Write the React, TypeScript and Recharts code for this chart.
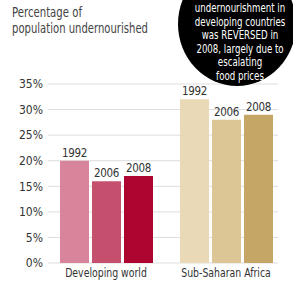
import React from 'react';
import { BarChart, Bar, XAxis, YAxis, CartesianGrid, Cell, LabelList } from 'recharts';

const categories = ['Developing world', 'Sub-Saharan Africa'];
const values1992 = [20, 32];
const values2006 = [16, 28];
const values2008 = [17, 29];
const years = ['1992', '2006', '2008'];
const yTicks = [0, 5, 10, 15, 20, 25, 30, 35];

const colors1992 = ['#d8849a', '#ead9b6'];
const colors2006 = ['#c4506e', '#ddc695'];
const colors2008 = ['#ad0430', '#c6a666'];

const data = categories.map((c, i) => ({
  cat: c,
  y1992: values1992[i],
  y2006: values2006[i],
  y2008: values2008[i],
}));

const FONT = '"DejaVu Sans Condensed", "DejaVu Sans", sans-serif';
const COND: React.CSSProperties = { fontStretch: 'condensed', fontFamily: FONT };

const titleLines = ['Percentage of', 'population undernourished'];
const titleWidths = [70, 136];

const circleLines = [
  'undernourishment in',
  'developing countries',
  'was REVERSED in',
  '2008, largely due to',
  'escalating',
  'food prices',
];

const GridLine = (props: any) => (
  <line
    key={props.key ?? `${props.y1}`}
    x1={props.x1 + 2}
    x2={props.x2 - 8}
    y1={props.y1}
    y2={props.y2}
    stroke="#dddddd"
    strokeWidth={1}
  />
);

const CatTick = (props: any) => {
  const { x, y, payload } = props;
  return (
    <text
      transform={`translate(${x},${y + 14}) scale(0.8,1)`}
      textAnchor="middle"
      fontSize={13}
      fill="#333333"
      style={COND}
    >
      {payload.value}
    </text>
  );
};

export default function App() {
  const seriesColors = [colors1992, colors2006, colors2008];
  const keys = ['y1992', 'y2006', 'y2008'];
  return (
    <div style={{ position: 'absolute', left: 0, top: 0, width: 293, height: 293, background: '#ffffff', overflow: 'hidden' }}>
      <BarChart
        width={293}
        height={293}
        data={data}
        margin={{ top: 84, right: 7, bottom: 0, left: 0 }}
        barSize={29}
        barGap={3}
      >
        <CartesianGrid vertical={false} horizontal={(p: any) => <GridLine {...p} />} />
        <XAxis
          dataKey="cat"
          tickLine={false}
          axisLine={false}
          tickSize={0}
          tickMargin={0}
          height={30}
          interval={0}
          tick={<CatTick />}
        />
        <YAxis
          width={46}
          domain={[0, 35]}
          ticks={yTicks}
          tickFormatter={(v: number) => `${v}%`}
          tickLine={false}
          axisLine={false}
          tickSize={0}
          tickMargin={3}
          tick={{ fontSize: 12, fill: '#333333', style: COND }}
        />
        {keys.map((k, si) => (
          <Bar key={k} dataKey={k} isAnimationActive={false}>
            {data.map((d, i) => (
              <Cell key={i} fill={seriesColors[si][i]} />
            ))}
            <LabelList
              dataKey={k}
              position="top"
              offset={4}
              formatter={() => years[si]}
              style={{ fontSize: 11.5, fill: '#333333', letterSpacing: -0.3, ...COND }}
            />
          </Bar>
        ))}
      </BarChart>
      <svg width={293} height={293} style={{ position: 'absolute', left: 0, top: 0, pointerEvents: 'none' }}>
        {titleLines.map((t, i) => (
          <text
            key={i}
            x={12}
            y={17 + i * 16}
            fontSize={14}
            fill="#444444"
            style={COND}
            textLength={titleWidths[i]}
            lengthAdjust="spacingAndGlyphs"
          >
            {t}
          </text>
        ))}
        <ellipse cx={237} cy={24} rx={59} ry={62} fill="#000000" />
        {circleLines.map((t, i) => (
          <text
            key={i}
            transform={`translate(240,${12 + i * 13.6}) scale(0.8,1)`}
            fontSize={12}
            fill="#ffffff"
            textAnchor="middle"
            style={COND}
          >
            {t}
          </text>
        ))}
      </svg>
    </div>
  );
}
